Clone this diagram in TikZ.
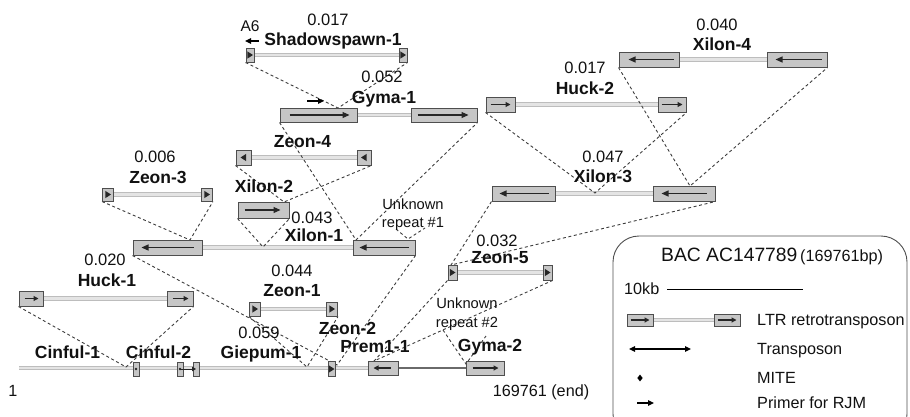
\documentclass[tikz,border=0pt]{standalone}
\usepackage{fontspec}
\setmainfont{Liberation Sans}
\usetikzlibrary{arrows.meta,shapes.geometric}
\definecolor{boxfill}{HTML}{C6C6C6}
\definecolor{boxedge}{HTML}{4E4E4E}
\definecolor{bodyfill}{HTML}{E4E4E4}
\definecolor{bodyedge}{HTML}{BDBDBD}
\definecolor{dashc}{HTML}{3C3C3C}
\definecolor{arrc}{HTML}{262626}
\definecolor{txtc}{HTML}{111111}
\definecolor{tline}{HTML}{6A6A6A}
\newcommand{\fLbl}{\fontsize{17.5}{20}\selectfont\bfseries}
\newcommand{\fNum}{\fontsize{16.5}{19}\selectfont}
\newcommand{\fSm}{\fontsize{14.7}{17}\selectfont}
\newcommand{\fLeg}{\fontsize{16.2}{19}\selectfont}
\newcommand{\fTitle}{\fontsize{19.3}{22}\selectfont}
\pgfdeclarelayer{bg}
\pgfsetlayers{bg,main}
\tikzset{
 ltr/.style={rectangle, draw=boxedge, fill=boxfill, line width=1pt, inner sep=0pt, minimum height=15pt},
 body/.style={draw=bodyedge, double=bodyfill, double distance=2.6pt, line width=0.8pt},
 ins/.style={draw=dashc, dash pattern=on 3pt off 2.6pt, line width=0.9pt},
 bigarr/.style={draw=arrc, line width=1.1pt, -{Triangle[length=7pt,width=6pt]}},
 smarr/.style={draw=arrc, line width=1.1pt, -{Triangle[length=5pt,width=5pt]}},
 primer/.style={draw=black, line width=1.2pt, -{Triangle[length=6pt,width=5.5pt]}},
 lbl/.style={font=\fLbl, text=txtc, inner sep=0pt, text height=12.5pt, text depth=0pt},
 num/.style={font=\fNum, text=txtc, inner sep=0pt, text height=11.8pt, text depth=0pt},
 sm/.style={font=\fSm, text=txtc, inner sep=0pt, text height=10.6pt, text depth=0pt},
 leg/.style={font=\fLeg, text=txtc, inner sep=0pt, text height=11.6pt, text depth=0pt},
}
\newcommand{\triR}[1]{\fill[arrc] ([xshift=-2.6pt,yshift=3.6pt]#1.center) -- ([xshift=3pt]#1.center) -- ([xshift=-2.6pt,yshift=-3.6pt]#1.center) -- cycle;}
\newcommand{\triL}[1]{\fill[arrc] ([xshift=2.6pt,yshift=3.6pt]#1.center) -- ([xshift=-3pt]#1.center) -- ([xshift=2.6pt,yshift=-3.6pt]#1.center) -- cycle;}
\newcommand{\arrR}[4]{\draw[#4] ([xshift=#2]#1.west) -- ([xshift=-#3]#1.east);}
\newcommand{\arrL}[4]{\draw[#4] ([xshift=-#3]#1.east) -- ([xshift=#2]#1.west);}
\begin{document}
\begin{tikzpicture}[x=1pt,y=-1pt]
\useasboundingbox (0,0) rectangle (910,416);
\clip (0,0) rectangle (910,416);

% ---------- LTR boxes ----------
\node[ltr, minimum width=8pt, minimum height=14pt] (shL) at (250,55) {};
\node[ltr, minimum width=8pt, minimum height=14pt] (shR) at (403,55) {};
\node[ltr, minimum width=77pt, minimum height=14pt] (gyL) at (318.5,115) {};
\node[ltr, minimum width=66pt, minimum height=14pt] (gyR) at (444,115) {};
\node[ltr, minimum width=15pt] (z4L) at (243.5,157.5) {};
\node[ltr, minimum width=14pt] (z4R) at (364,157.5) {};
\node[ltr, minimum width=51pt, minimum height=16pt] (x2) at (263.5,210) {};
\node[ltr, minimum width=69pt] (x1L) at (167.5,247.5) {};
\node[ltr, minimum width=62pt] (x1R) at (384,247.5) {};
\node[ltr, minimum width=11pt, minimum height=13pt] (z3L) at (108,194.5) {};
\node[ltr, minimum width=11pt, minimum height=13pt] (z3R) at (207,194.5) {};
\node[ltr, minimum width=24pt] (h1L) at (31,298.5) {};
\node[ltr, minimum width=26pt] (h1R) at (180,298.5) {};
\node[ltr, minimum width=11pt, minimum height=14pt] (z1L) at (255,309) {};
\node[ltr, minimum width=11pt, minimum height=14pt] (z1R) at (332,309) {};
\node[ltr, minimum width=9pt] (z5L) at (452.5,272.5) {};
\node[ltr, minimum width=9pt] (z5R) at (547.5,272.5) {};
\node[ltr, minimum width=29pt] (h2L) at (500.5,104.5) {};
\node[ltr, minimum width=28pt] (h2R) at (672,104.5) {};
\node[ltr, minimum width=60pt] (x4L) at (649,59.5) {};
\node[ltr, minimum width=60pt] (x4R) at (797,59.5) {};
\node[ltr, minimum width=63pt] (x3L) at (523.5,193.5) {};
\node[ltr, minimum width=62pt] (x3R) at (684,193.5) {};
% main line elements
\node[ltr, minimum width=30pt, minimum height=14pt] (prem) at (383,368) {};
\node[ltr, minimum width=38pt, minimum height=14pt] (gy2) at (485,368) {};
\node[ltr, minimum width=6pt, minimum height=14pt] (c1) at (136,369) {};
\node[ltr, minimum width=6pt, minimum height=14pt] (c2a) at (180,369) {};
\node[ltr, minimum width=6pt, minimum height=14pt] (c2b) at (196,369) {};
\node[ltr, minimum width=7pt, minimum height=15pt] (z2) at (331.5,369) {};

% ---------- coordinates ----------
\coordinate (mainL) at (19,368);
\coordinate (sSh) at (338,108);
\coordinate (sGy) at (356,240);
\coordinate (sZ4) at (284,202);
\coordinate (sX2) at (263,247);
\coordinate (sZ3) at (190,240);
\coordinate (sX1) at (337,365);
\coordinate (sZ1) at (307,367);
\coordinate (sH1) at (126,367);
\coordinate (sZ5) at (374,361);
\coordinate (sX3) at (451,265);
\coordinate (sH2) at (595,193);
\coordinate (sX4) at (690,186);
\coordinate (u1a) at (396,229);
\coordinate (sU1) at (408,239);
\coordinate (u1b) at (425,228);
\coordinate (u2a) at (443,330);
\coordinate (sU2) at (466,364);
\coordinate (u2b) at (486,336);

\begin{pgfonlayer}{bg}
% bodies
\draw[body] (mainL) -- (prem.west);
\draw[draw=tline, line width=1.6pt] (prem.east) -- (gy2.west);
\draw[body] (shL.east) -- (shR.west);
\draw[body] (gyL.east) -- (gyR.west);
\draw[body] (z4L.east) -- (z4R.west);
\draw[body] (x1L.east) -- (x1R.west);
\draw[body] (z3L.east) -- (z3R.west);
\draw[body] (h1L.east) -- (h1R.west);
\draw[body] (z1L.east) -- (z1R.west);
\draw[body] (z5L.east) -- (z5R.west);
\draw[body] (h2L.east) -- (h2R.west);
\draw[body] (x4L.east) -- (x4R.west);
\draw[body] (x3L.east) -- (x3R.west);
% insertions
\draw[ins] (shL.south west) -- (sSh) -- (shR.south east);
\draw[ins] (gyL.south west) -- (sGy) -- (gyR.south east);
\draw[ins] (z4L.south west) -- (sZ4) -- (z4R.south east);
\draw[ins] (x2.south west) -- (sX2) -- (x2.south east);
\draw[ins] (z3L.south west) -- (sZ3) -- (z3R.south east);
\draw[ins] (x1L.south west) -- (sX1) -- (x1R.south east);
\draw[ins] (z1L.south west) -- (sZ1) -- (z1R.south east);
\draw[ins] (h1L.south west) -- (sH1) -- (h1R.south east);
\draw[ins] (z5L.south west) -- (sZ5) -- (z5R.south east);
\draw[ins] (x3L.south west) -- (sX3) -- (x3R.south east);
\draw[ins] (h2L.south west) -- (sH2) -- (h2R.south east);
\draw[ins] (x4L.south west) -- (sX4) -- (x4R.south east);
\draw[ins] (u1a) -- (sU1) -- (u1b);
\draw[ins] (u2a) -- (sU2) -- (u2b);
\end{pgfonlayer}

% ---------- arrows in boxes ----------
\arrR{gyL}{10pt}{8pt}{bigarr}
\arrR{gyR}{7pt}{9pt}{bigarr}
\arrL{x4L}{10pt}{6pt}{bigarr}
\arrL{x4R}{9pt}{6pt}{bigarr}
\arrL{x3L}{8pt}{7pt}{bigarr}
\arrL{x3R}{9pt}{9pt}{bigarr}
\arrL{x1L}{9pt}{9pt}{bigarr}
\arrL{x1R}{7pt}{7pt}{bigarr}
\arrR{x2}{7pt}{9pt}{bigarr}
\arrR{h1L}{6pt}{5pt}{smarr}
\arrR{h1R}{6pt}{5pt}{smarr}
\arrR{h2L}{5pt}{5pt}{smarr}
\arrR{h2R}{4pt}{4pt}{smarr}
\arrL{prem}{6pt}{8pt}{smarr}
\arrR{gy2}{7pt}{6pt}{smarr}
\triR{shL} \triR{shR} \triL{z4L} \triL{z4R} \triR{z3L} \triR{z3R}
\triR{z1L} \triR{z1R} \triR{z5L} \triR{z5R} \triR{z2}
\fill[arrc] (c1.center) circle (1.4pt);
\fill[arrc] (c2a.center) circle (1.3pt);
\draw[arrc, line width=0.8pt, -{Triangle[length=4pt,width=4.5pt]}] (c2a.center) -- (c2b.center);

% ---------- primers ----------
\coordinate (p1a) at (259,41); \coordinate (p1b) at (245,41);
\draw[primer] (p1a) -- (p1b);
\coordinate (p2a) at (307,101); \coordinate (p2b) at (324,101);
\draw[primer] (p2a) -- (p2b);

% ---------- labels ----------
\node[num] (nSh) at (328,20) {0.017};
\node[lbl] (lSh) at (333,39) {Shadowspawn-1};
\node[sm, font=\fontsize{15.5}{18}\selectfont] (tA6) at (250,26) {A6};
\node[num] (nGy) at (382,77) {0.052};
\node[lbl] (lGy) at (384,97) {Gyma-1};
\node[lbl] (lZ4) at (302.5,141) {Zeon-4};
\node[lbl] (lX2) at (264,186) {Xilon-2};
\node[num] (nX1) at (312,218) {0.043};
\node[lbl] (lX1) at (314,235) {Xilon-1};
\node[num] (nZ3) at (155,157) {0.006};
\node[lbl] (lZ3) at (158,177) {Zeon-3};
\node[num] (nH1) at (105,260) {0.020};
\node[lbl] (lH1) at (107,280) {Huck-1};
\node[num] (nZ1) at (292,271) {0.044};
\node[lbl] (lZ1) at (292,290) {Zeon-1};
\node[num] (nZ5) at (497,241) {0.032};
\node[lbl] (lZ5) at (500,257) {Zeon-5};
\node[num] (nH2) at (585,68) {0.017};
\node[lbl] (lH2) at (585,88) {Huck-2};
\node[num] (nX4) at (717,25) {0.040};
\node[lbl] (lX4) at (722,44) {Xilon-4};
\node[num] (nX3) at (603,157) {0.047};
\node[lbl] (lX3) at (603,176) {Xilon-3};
\node[sm] (u1t1) at (413,204) {Unknown};
\node[sm] (u1t2) at (413,222) {repeat \#1};
\node[sm] (u2t1) at (467,303) {Unknown};
\node[sm] (u2t2) at (467,322) {repeat \#2};
\node[lbl] (lC1) at (67.5,352) {Cinful-1};
\node[lbl] (lC2) at (158.5,352) {Cinful-2};
\node[num] (nGi) at (259,333) {0.059};
\node[lbl] (lGi) at (261,352) {Giepum-1};
\node[lbl] (lZ2) at (347.5,328) {Zeon-2};
\node[lbl] (lPr) at (375,346) {Prem1-1};
\node[lbl] (lG2) at (490,345) {Gyma-2};
\node[leg] (tOne) at (13,391) {1};
\node[leg] (tEnd) at (541,391) {169761 (end)};

% ---------- legend ----------
\node[draw=boxedge, line width=0.9pt, rounded corners=26pt, minimum width=294pt, minimum height=204pt, inner sep=0pt] (legend) at (760,338) {};
\node[anchor=west, text=txtc, inner sep=0pt, text height=13.8pt, text depth=0pt] (ttl) at (661,255) {{\fTitle BAC AC147789} {\fLeg (169761bp)}};
\node[leg, anchor=west] (k10) at (624,289) {10kb};
\coordinate (sc1) at (667,289); \coordinate (sc2) at (803,289);
\draw[black, line width=0.8pt] (sc1) -- (sc2);
\node[ltr, minimum width=26pt, minimum height=12pt] (lgL) at (640,320) {};
\node[ltr, minimum width=26pt, minimum height=12pt] (lgR) at (727,320) {};
\begin{pgfonlayer}{bg}
\draw[body] (lgL.east) -- (lgR.west);
\end{pgfonlayer}
\arrR{lgL}{4pt}{4pt}{smarr}
\arrR{lgR}{4pt}{4pt}{smarr}
\coordinate (tr1) at (629,349); \coordinate (tr2) at (691,349);
\draw[black, line width=1.1pt, {Triangle[length=6pt,width=5.5pt]}-{Triangle[length=6pt,width=5.5pt]}] (tr1) -- (tr2);
\node[diamond, fill=black, inner sep=0pt, minimum width=5.5pt, minimum height=7pt] (mite) at (640,378) {};
\coordinate (pl1) at (637,403); \coordinate (pl2) at (654,403);
\draw[primer] (pl1) -- (pl2);
\node[leg, anchor=west] (tLTR) at (757,320) {LTR retrotransposon};
\node[leg, anchor=west] (tTr) at (757,349) {Transposon};
\node[leg, anchor=west] (tMi) at (757,378) {MITE};
\node[leg, anchor=west] (tPr) at (757,403) {Primer for RJM};
\end{tikzpicture}
\end{document}
